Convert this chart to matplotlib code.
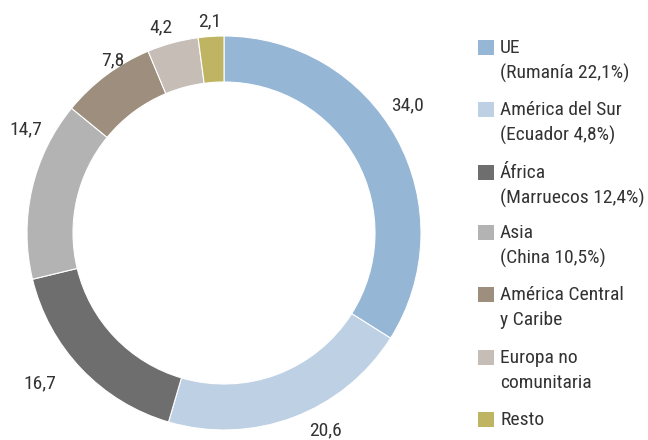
import matplotlib
matplotlib.use("Agg")
import matplotlib.pyplot as plt
from matplotlib.patches import Rectangle
from matplotlib import font_manager

names = {f.name for f in font_manager.fontManager.ttflist}
fam = [n for n in ["Liberation Sans Narrow", "Roboto Condensed", "Roboto", "DejaVu Sans"] if n in names]
plt.rcParams['font.family'] = fam

categories = ["UE", "América del Sur", "África", "Asia", "América Central", "Europa no comunitaria", "Resto"]
values = [34.0, 20.6, 16.7, 14.7, 7.8, 4.2, 2.1]
value_labels = ["34,0", "20,6", "16,7", "14,7", "7,8", "4,2", "2,1"]
legend_labels = ["UE\n(Rumanía 22,1%)", "América del Sur\n(Ecuador 4,8%)", "África\n(Marruecos 12,4%)",
                 "Asia\n(China 10,5%)", "América Central\ny Caribe", "Europa no\ncomunitaria", "Resto"]
colors = ["#95b6d5", "#bed0e4", "#6e6e6e", "#b3b3b3", "#9d8e7d", "#c5bdb6", "#bfb462"]

# label positions in axes data coords (pie radius ~0.985)
label_pos = [(0.915, 0.64), (0.505, -0.985), (-0.92, -0.75), (-0.99, 0.52),
             (-0.555, 0.865), (-0.315, 1.03), (-0.07, 1.06)]

W, H = 648, 440
fig = plt.figure(figsize=(W / 100, H / 100), dpi=100)
cx, cy, half = 224, 233, 200
ax = fig.add_axes([(cx - half) / W, (H - cy - half) / H, 2 * half / W, 2 * half / H])
ax.pie(values, colors=colors, startangle=90, counterclock=False, radius=0.985,
       wedgeprops=dict(width=0.23, edgecolor="white", linewidth=0.8))
ax.set_xlim(-1, 1)
ax.set_ylim(-1, 1)
ax.set_aspect("equal")
ax.axis("off")
for (x, y), t in zip(label_pos, value_labels):
    ax.text(x, y, t, ha="center", va="center", fontsize=14, color="#333333", clip_on=False)

# legend
entry_y = [48, 110, 173, 233, 295, 358, 420]
for yy, lab, col in zip(entry_y, legend_labels, colors):
    fig.patches.append(Rectangle((478 / W, 1 - (yy + 7) / H), 16 / W, 15 / H,
                                 transform=fig.transFigure, facecolor=col, edgecolor="none"))
    fig.text(500 / W, 1 - yy / H, lab, ha="left", va="baseline", fontsize=14,
             color="#333333", linespacing=1.38,
             transform=fig.transFigure) if False else None
    lines = lab.split("\n")
    for i, ln in enumerate(lines):
        fig.text(500 / W, 1 - (yy + 25 * i) / H, ln, ha="left", va="center", fontsize=14,
                 color="#333333")

fig.savefig("out.png", dpi=100)
